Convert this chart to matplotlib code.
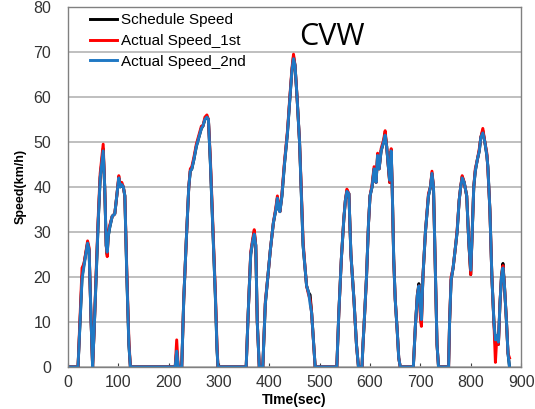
import numpy as np
import matplotlib
matplotlib.use("Agg")
import matplotlib.pyplot as plt

plt.rcParams['font.family'] = ['Liberation Sans', 'DejaVu Sans']

# time points (sec)
time_s = [0, 20, 24, 28, 32, 39, 42, 46, 49, 52, 56, 60, 64, 70, 73, 76, 78, 80, 83, 88,
          93, 97, 101, 104, 107, 110, 113, 117, 121, 124, 213, 216, 219, 226, 230, 235, 240, 243, 246, 250,
          255, 260, 265, 268, 272, 276, 279, 283, 288, 293, 296, 298, 354, 358, 363, 367, 370, 373, 376, 380,
          387, 392, 397, 402, 408, 413, 416, 419, 421, 425, 430, 436, 441, 445, 448, 451, 455, 460, 463, 467,
          471, 474, 478, 481, 484, 488, 491, 534, 538, 543, 548, 551, 554, 558, 562, 568, 573, 577, 584, 586,
          588, 593, 597, 600, 604, 608, 612, 615, 618, 622, 627, 630, 633, 636, 639, 642, 644, 647, 650, 654,
          657, 660, 686, 690, 694, 697, 700, 702, 705, 710, 716, 720, 723, 726, 730, 733, 736, 756, 758, 761,
          765, 770, 773, 777, 780, 783, 787, 792, 796, 800, 803, 806, 809, 813, 817, 820, 824, 828, 832, 834,
          838, 842, 846, 849, 852, 855, 858, 861, 864, 867, 871, 874, 877]

schedule = [0, 0, 10, 20, 23, 27.5, 26, 10, 0, 8, 20, 32, 42, 48.5, 40, 27, 25, 29, 31, 33.5,
            34, 38, 42, 40, 40.5, 40, 38, 20, 5, 0, 0, 3.5, 0, 0, 15, 28, 40, 43.5, 44, 46,
            49, 51, 53, 53.5, 55, 55.5, 55, 45, 30, 15, 4, 0, 0, 12, 25, 28, 30, 27, 10, 0,
            0, 14, 20, 26, 32, 35, 37.5, 35, 34.5, 38, 45, 52, 60, 66, 69, 67, 60, 50, 40, 27,
            22, 18, 16.5, 16, 12, 5, 0, 0, 12, 24, 33, 37, 39, 38.5, 25, 15, 5, 0, 0, 5,
            9, 20, 32, 38, 40, 44, 41, 47, 44, 48, 50, 52, 49, 45, 41, 48, 40, 24, 15, 8,
            2, 0, 0, 9, 16, 18.5, 12, 9.5, 20, 30, 38, 40, 43, 40, 20, 5, 0, 0, 10, 19.3,
            22, 27, 30, 37, 40, 42.3, 41, 38, 28, 20.5, 30, 40, 43.5, 46, 48, 51, 52.5, 50, 47, 44.5,
            35, 20, 10, 5, 7, 5, 14, 20, 23, 18, 10, 3, 0]

actual_1st = [0, 0, 11, 22, 23, 28, 26.5, 10, 0, 8, 21, 33, 43, 49.5, 40, 27, 24.5, 30, 31.5, 33.5,
              34, 38, 42.5, 40.5, 41, 40, 38, 21, 6, 0, 0, 6, 0, 0, 15, 28, 40, 44, 44.5, 46.5,
              49.5, 51.5, 53.5, 53.5, 55.5, 56, 55, 46, 31, 16, 5, 0, 0, 12, 25.5, 28.5, 30.5, 27, 10, 0,
              0, 14.5, 20, 26, 32, 35.5, 38, 35.5, 34.5, 38.5, 45.5, 52.5, 60.5, 66.5, 69.5, 67, 60, 50, 41, 28,
              22, 18, 16, 15, 12, 5, 0, 0, 12, 24, 33, 37, 39.5, 38.5, 25, 15, 5, 0, 0, 5,
              9, 20, 32, 38, 40.5, 44.5, 41, 47.5, 44, 48.5, 50.5, 52.5, 49, 45, 41, 48.5, 40, 24, 15, 8,
              2, 0, 0, 9, 16, 18, 11, 9, 20, 30, 38.5, 40, 43.5, 40, 20, 5, 0, 0, 10, 20,
              22, 27, 30.5, 37, 40, 42.5, 41, 38, 28, 20.5, 30, 40, 44, 46, 48.5, 51, 53, 50, 47.5, 44,
              35, 20, 10, 1, 7, 5, 14, 20, 22.5, 18, 10, 3, 2]

actual_2nd = [0, 0, 10, 19.5, 22.5, 27.5, 26, 10, 0, 8, 20, 32, 42, 48, 40, 27, 25.5, 29, 31, 33.5,
              34, 38, 42, 40, 40.5, 40, 38, 20, 5, 0, 0, 3.5, 0, 0, 15, 28, 40, 43.5, 44, 46,
              49, 51, 53, 53.5, 55, 55.5, 55, 45, 30, 15, 4, 0, 0, 12, 25, 28, 29.5, 27, 10, 0,
              0, 14, 20, 26, 32, 35, 37.5, 35, 34.5, 38, 45, 52, 60, 66, 68.5, 67, 60, 50, 40, 27,
              22, 18, 16.5, 14, 12, 5, 0, 0, 12, 24, 33, 37, 39, 38.5, 25, 15, 5, 0, 0, 5,
              9, 20, 32, 38, 40, 44, 41, 47, 44, 48, 50, 51.5, 49, 45, 41.5, 48, 40, 24, 15, 8,
              2, 0, 0, 9, 16, 18, 12.5, 10.5, 20, 30, 38, 40, 43, 40, 20, 5, 0, 0, 10, 19.3,
              22, 27, 30, 37, 40, 42, 41, 38, 28, 21.5, 30, 40, 43.5, 46, 48, 51, 52, 50, 47, 44.5,
              35, 20, 10, 6, 7, 5.5, 14, 20, 22, 18, 10, 3, 0]

fig = plt.figure(figsize=(5.35, 4.09), dpi=100)
ax = fig.add_axes([0.127, 0.103, 0.847, 0.880])

ax.plot(time_s, schedule, color='black', lw=2.1, label='Schedule Speed')
ax.plot(time_s, actual_1st, color='#ff0000', lw=2.1, label='Actual Speed_1st')
ax.plot(time_s, actual_2nd, color='#1f78c4', lw=2.1, label='Actual Speed_2nd')

ax.set_xlim(0, 900)
ax.set_ylim(0, 80)
ax.set_xticks(np.arange(0, 901, 100))
ax.set_yticks(np.arange(0, 81, 10))
ax.yaxis.grid(True, color='#b4b4b4', lw=1.2)
ax.set_axisbelow(True)
ax.tick_params(axis='x', direction='in', length=3, color='#404040', labelsize=11.5,
               labelcolor='#333333', pad=6)
ax.tick_params(axis='y', length=0, labelsize=11.5, labelcolor='#333333', pad=12)
for s in ax.spines.values():
    s.set_color('#808080')
    s.set_linewidth(1.0)

ax.set_xlabel('TIme(sec)', fontsize=10, fontweight='bold', labelpad=2)
ax.set_ylabel('Speed(km/h)', fontsize=9, fontweight='bold', labelpad=5)

ax.legend(loc='upper left', bbox_to_anchor=(0.035, 1.0), frameon=False, fontsize=11,
          handlelength=1.8, handletextpad=0.25, labelspacing=0.45, borderaxespad=0.0)

ax.text(0.51, 0.894, 'CVW', transform=ax.transAxes, fontsize=22, color='black',
        family=['Open Sans', 'DejaVu Sans'])

fig.savefig('out.png', dpi=100)
